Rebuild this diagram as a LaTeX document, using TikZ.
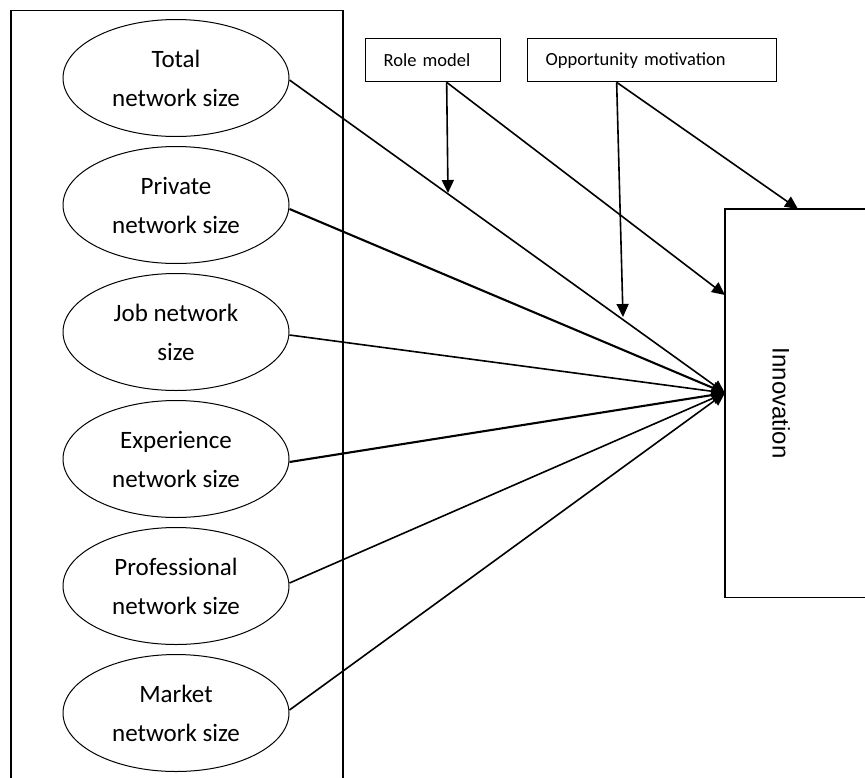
\documentclass[tikz,border=0pt]{standalone}
\usepackage{fontspec}
\usepackage{graphicx}
\setmainfont{Carlito}
\newfontfamily\arialf{Liberation Sans}
\usetikzlibrary{arrows.meta,shapes.geometric}
\begin{document}
\begin{tikzpicture}[x=1pt,y=-1pt,
  ell/.style={ellipse, draw, line width=1pt, minimum width=226pt, minimum height=117pt,
    inner sep=0pt, align=center, font=\fontsize{25}{39}\selectfont},
  topbox/.style={draw, line width=1.3pt, minimum height=43pt, inner ysep=0pt, inner xsep=18pt,
    align=left, anchor=north west, font=\fontsize{18.5}{22}\selectfont},
  conn/.style={line width=1.6pt, -{Triangle[width=12pt,length=13pt]}},
  thickconn/.style={conn, line width=2.1pt},
  frame/.style={line width=1.3pt},
]
\useasboundingbox (0,0) rectangle (865,777);
\clip (0,0) rectangle (865,777);

% left frame (open at the bottom)
\draw[frame] (11,800) -- (11,10.5) -- (343,10.5) -- (343,800);

% ellipses
\node[ell] (tot) at (176,78)  {Total\\network size};
\node[ell] (pri) at (176,205) {Private\\network size};
\node[ell] (job) at (176,332) {Job network\\size};
\node[ell] (exp) at (176,459) {Experience\\network size};
\node[ell] (pro) at (176,586) {Professional\\network size};
\node[ell] (mar) at (176,713) {Market\\network size};

% top boxes
\node[topbox, text width=99pt]  (role) at (365,38) {Role model};
\node[topbox, text width=213pt] (opp)  at (527,38) {Opportunity motivation};

% innovation box
\node[minimum width=112pt, minimum height=388pt, inner sep=0pt, anchor=north west,
  font=\arialf\fontsize{24}{28}\selectfont] (inn) at (725,209) {\rotatebox{-90}{Innovation}};
\draw[frame] ([xshift=200pt]inn.north west) -- (inn.north west) -- (inn.south west) -- ([xshift=200pt]inn.south west);

% coordinates
\coordinate (tip) at (725,393);
\coordinate (rms) at ([xshift=13.5pt]role.south);
\coordinate (oms) at ([xshift=-35.5pt]opp.south);
\coordinate (rmt) at (448,193);
\coordinate (omt) at (623,317);
\coordinate (rmi) at (725,295);
\coordinate (omi) at (798,209);

% connectors
\draw[conn] ([yshift=-2pt]tot.east) -- (tip);
\draw[thickconn] ([yshift=-4pt]pri.east) -- (tip);
\draw[conn] ([yshift=-3pt]job.east) -- (tip);
\draw[thickconn] ([yshift=-3pt]exp.east) -- (tip);
\draw[conn] ([yshift=3pt]pro.east) -- (tip);
\draw[conn] ([yshift=3pt]mar.east) -- (tip);

\draw[conn] (rms) -- (rmt);
\draw[conn] (rms) -- (rmi);
\draw[conn] (oms) -- (omt);
\draw[conn] (oms) -- (omi);
\end{tikzpicture}
\end{document}
